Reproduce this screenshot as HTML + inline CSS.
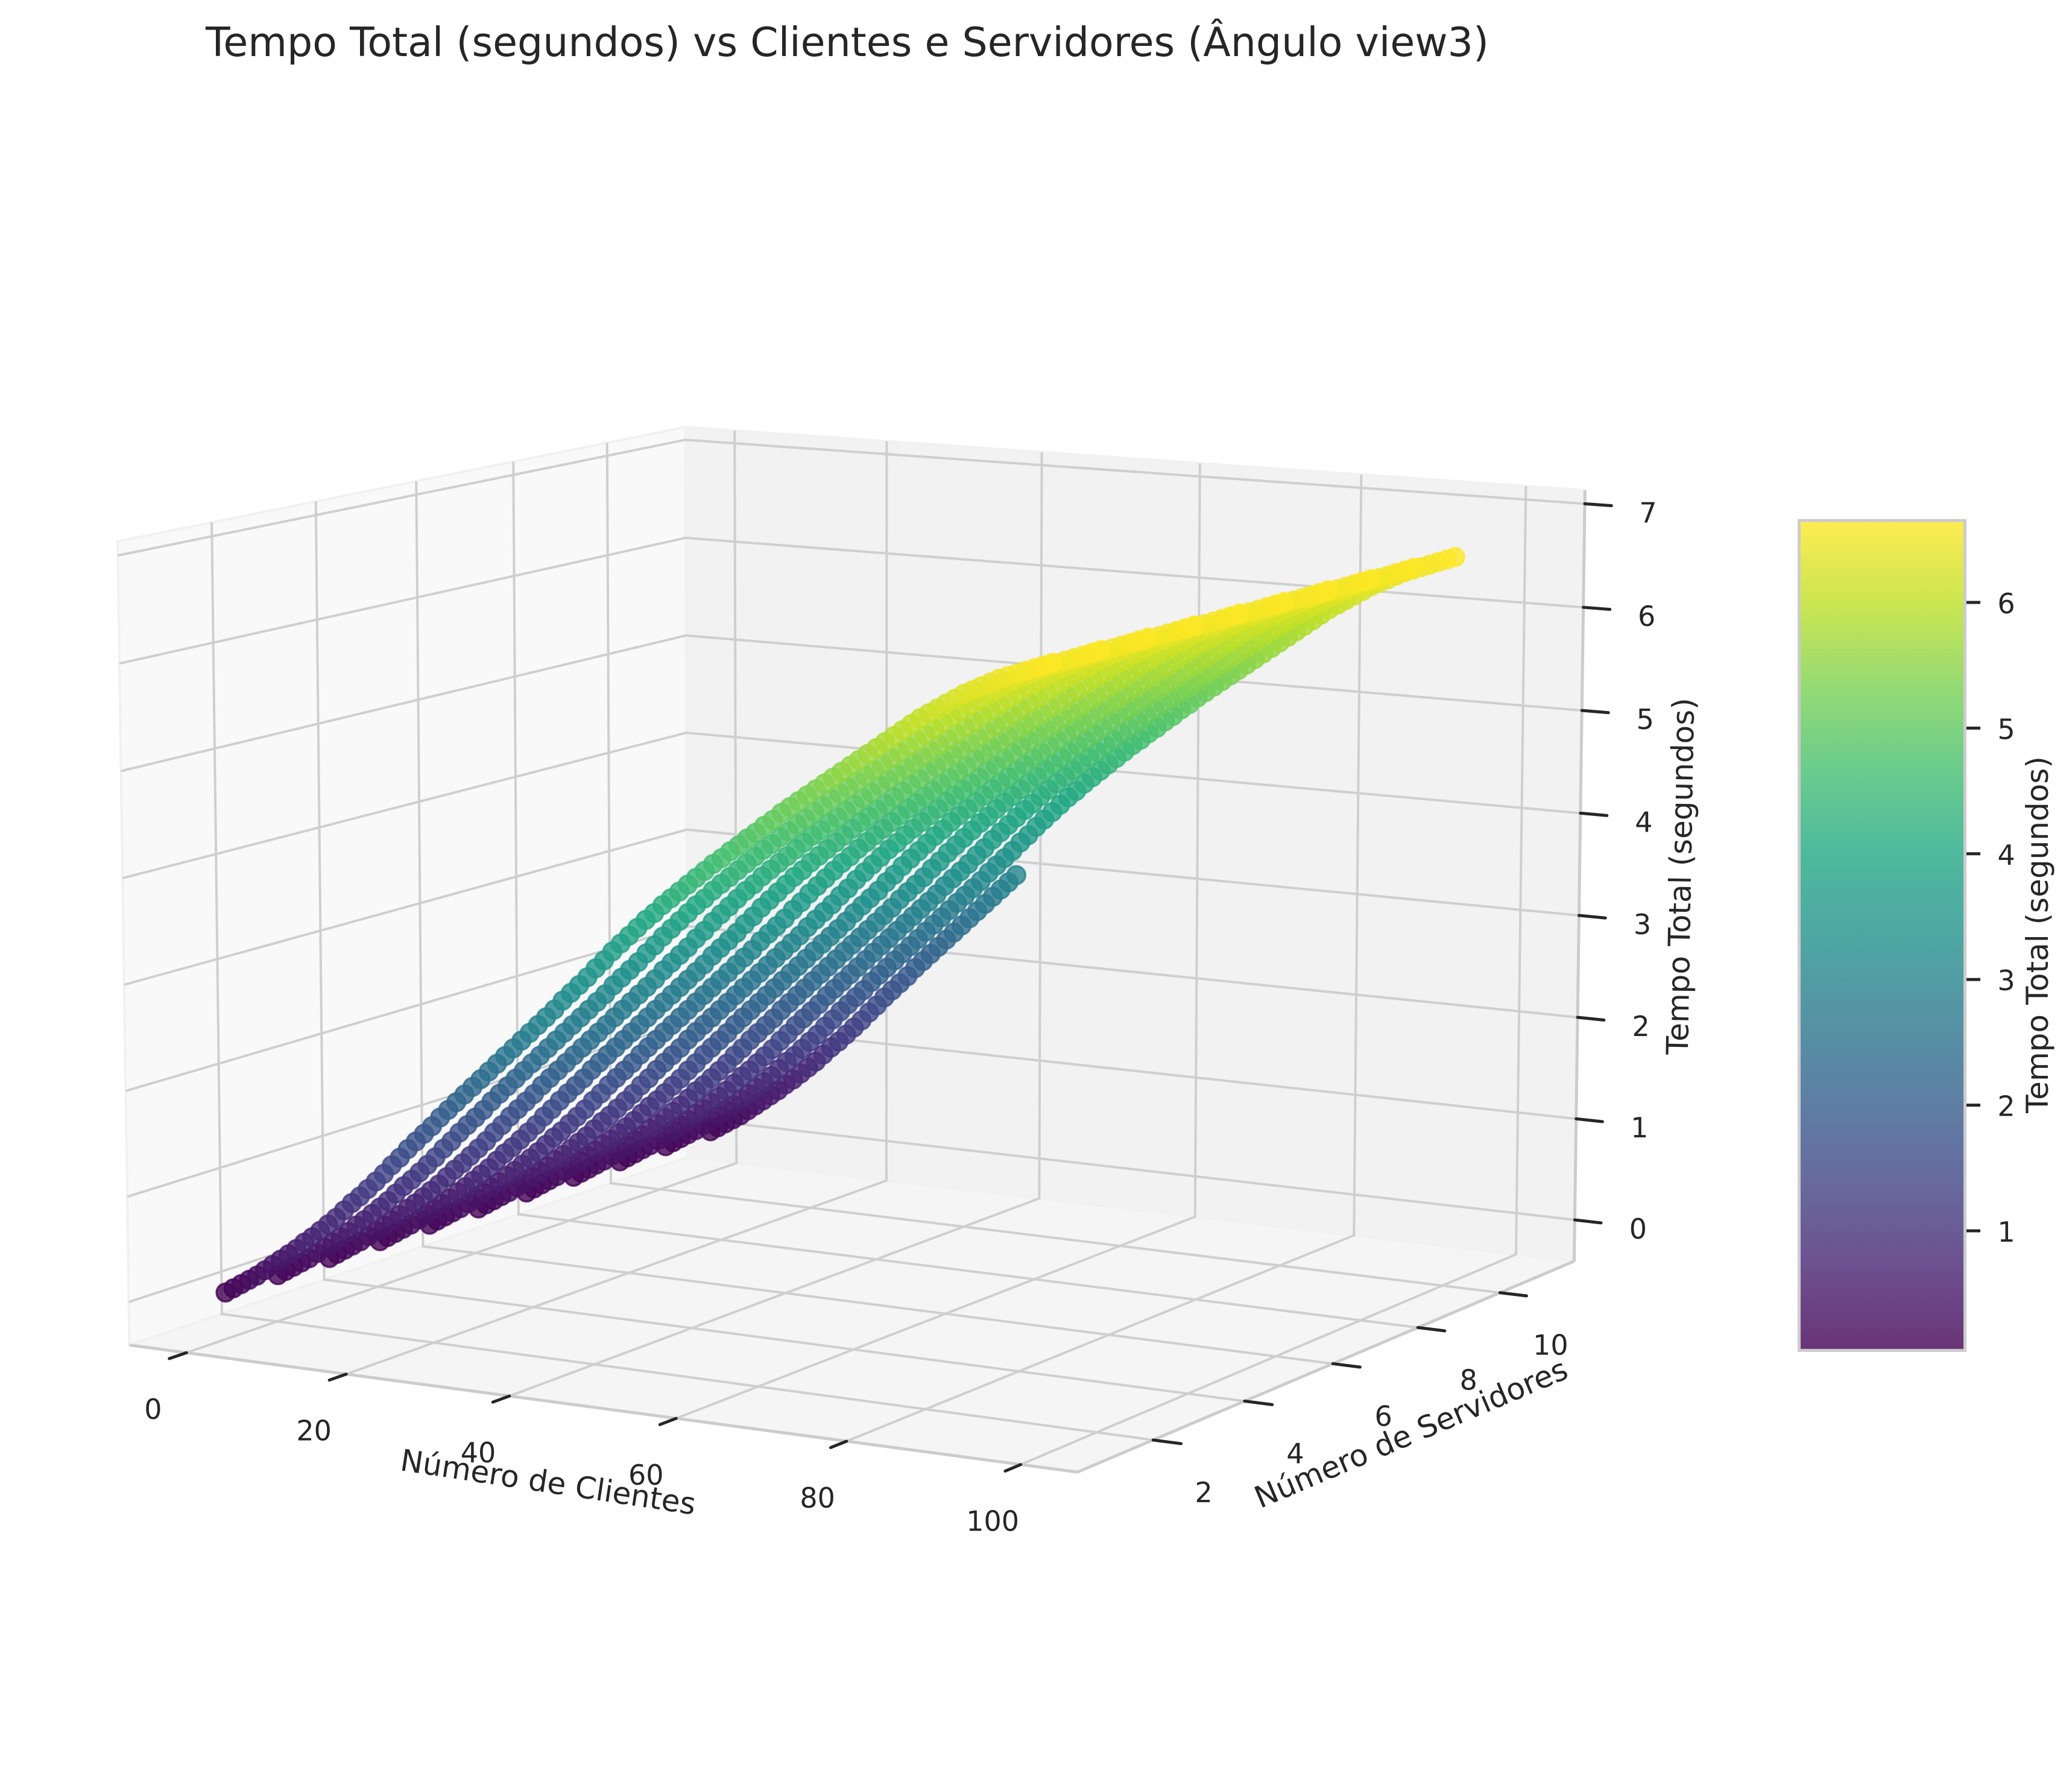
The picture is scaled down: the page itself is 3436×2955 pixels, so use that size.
<!DOCTYPE html>
<html lang="pt">
<head>
<meta charset="utf-8">
<title>Tempo Total vs Clientes e Servidores</title>
<style>
html,body{margin:0;padding:0;background:#fff}
svg{display:block}
text{font-family:"DejaVu Sans","Liberation Sans",sans-serif;fill:#262626}
.grid{stroke:#cfcfcf;stroke-width:4;fill:none}
.edge{stroke:#cccccc;stroke-width:5;fill:none}
.tick{stroke:#262626;stroke-width:5;stroke-linecap:round}
.ticklabel{font-size:46px;text-anchor:middle;dominant-baseline:central}
.axislabel{font-size:50px;text-anchor:middle;dominant-baseline:central}
</style>
</head>
<body>
<svg id="chart" width="3436" height="2955" viewBox="0 0 3436 2955">
<rect x="0" y="0" width="3436" height="2955" fill="#ffffff"/>
<g id="panes"></g>
<g id="grid"></g>
<g id="edges"></g>
<g id="ticks"></g>
<g id="points"></g>
<g id="ticklabels"></g>
<text x="341" y="93" font-size="66.5">Tempo Total (segundos) vs Clientes e Servidores (Ângulo view3)</text>
<text class="axislabel" transform="translate(909 2458) rotate(8.6)">Número de Clientes</text>
<text class="axislabel" transform="translate(2340 2377) rotate(-23)">Número de Servidores</text>
<text class="axislabel" transform="translate(2787 1453) rotate(-89)">Tempo Total (segundos)</text>
<defs><linearGradient id="viridisGradient" x1="0" y1="1" x2="0" y2="0"></linearGradient></defs>
<g id="colorbar"></g>
<text class="axislabel" transform="translate(3379 1550) rotate(-90)">Tempo Total (segundos)</text>
</svg>
<script>
const clientes=[1,2,3,4,5,6,7,8,9,10,11,12,13,14,15,16,17,18,19,20,21,22,23,24,25,26,27,28,29,30,31,32,33,34,35,36,37,38,39,40,41,42,43,44,45,46,47,48,49,50,51,52,53,54,55,56,57,58,59,60,61,62,63,64,65,66,67,68,69,70,71,72,73,74,75,76,77,78,79,80,81,82,83,84,85,86,87,88,89,90,91,92,93,94,95,96,97,98,99,100];
const servidores=[1,2,3,4,5,6,7,8,9,10,11];
const tempoS1=[.07,.12,.17,.22,.27,.33,.39,.45,.51,.57,.64,.70,.77,.84,.91,.99,1.07,1.14,1.22,1.30,1.38,1.47,1.55,1.64,1.72,1.80,1.88,1.97,2.05,2.13,2.21,2.29,2.37,2.45,2.53,2.61,2.69,2.77,2.85,2.93,3.01,3.09,3.18,3.26,3.34,3.42,3.51,3.59,3.68,3.76,3.84,3.92,4.00,4.07,4.15,4.22,4.29,4.36,4.43,4.50,4.57,4.63,4.70,4.76,4.83,4.89,4.96,5.02,5.09,5.15,5.21,5.27,5.33,5.39,5.45,5.51,5.57,5.63,5.69,5.75,5.81,5.87,5.93,5.99,6.05,6.10,6.15,6.20,6.25,6.30,6.34,6.38,6.42,6.46,6.49,6.52,6.55,6.58,6.61,6.64];
const tempoS2=[.07,.12,.17,.22,.27,.33,.39,.45,.51,.57,.64,.70,.77,.84,.91,.99,1.07,1.14,1.22,1.30,1.38,1.47,1.55,1.64,1.72,1.80,1.88,1.97,2.05,2.13,2.21,2.29,2.37,2.45,2.53,2.61,2.69,2.77,2.85,2.93,3.01,3.09,3.18,3.26,3.34,3.42,3.51,3.59,3.68,3.76,3.84,3.92,4.00,4.07,4.15,4.22,4.29,4.36,4.43,4.50,4.57,4.63,4.70,4.76,4.83,4.89,4.96,5.02,5.09,5.15,5.21,5.27,5.33,5.39,5.45,5.51,5.57,5.63,5.69,5.75,5.81,5.87,5.93,5.99,6.05,6.10,6.15,6.20,6.25,6.30,6.34,6.38,6.42,6.46,6.49,6.52,6.55,6.58,6.61,6.64];
const tempoS3=[.07,.12,.17,.22,.27,.33,.39,.45,.51,.57,.64,.70,.77,.84,.91,.99,1.07,1.14,1.22,1.30,1.38,1.47,1.55,1.64,1.72,1.80,1.88,1.97,2.05,2.13,2.21,2.29,2.37,2.45,2.53,2.61,2.69,2.77,2.85,2.93,3.01,3.09,3.18,3.26,3.34,3.42,3.51,3.59,3.68,3.76,3.84,3.92,4.00,4.07,4.15,4.22,4.29,4.36,4.43,4.50,4.57,4.63,4.70,4.76,4.83,4.89,4.96,5.02,5.09,5.15,5.21,5.27,5.33,5.39,5.45,5.51,5.57,5.63,5.69,5.75,5.81,5.87,5.93,5.99,6.05,6.10,6.15,6.20,6.25,6.30,6.34,6.38,6.42,6.46,6.49,6.52,6.55,6.58,6.61,6.64];
const tempoS4=[.07,.12,.17,.22,.27,.33,.39,.45,.51,.57,.64,.70,.77,.84,.91,.99,1.07,1.14,1.22,1.30,1.38,1.47,1.55,1.64,1.72,1.80,1.88,1.97,2.05,2.13,2.21,2.29,2.37,2.45,2.53,2.61,2.69,2.77,2.85,2.93,3.01,3.09,3.18,3.26,3.34,3.42,3.51,3.59,3.68,3.76,3.84,3.92,4.00,4.07,4.15,4.22,4.29,4.36,4.43,4.50,4.57,4.63,4.70,4.76,4.83,4.89,4.96,5.02,5.09,5.15,5.21,5.27,5.33,5.39,5.45,5.51,5.57,5.63,5.69,5.75,5.81,5.87,5.93,5.99,6.05,6.10,6.15,6.20,6.25,6.30,6.34,6.38,6.42,6.46,6.49,6.52,6.55,6.58,6.61,6.64];
const tempoS5=[.07,.12,.17,.22,.27,.33,.39,.45,.51,.57,.64,.70,.77,.84,.91,.99,1.07,1.14,1.22,1.30,1.38,1.47,1.55,1.64,1.72,1.80,1.88,1.97,2.05,2.13,2.21,2.29,2.37,2.45,2.53,2.61,2.69,2.77,2.85,2.93,3.01,3.09,3.18,3.26,3.34,3.42,3.51,3.59,3.68,3.76,3.84,3.92,4.00,4.07,4.15,4.22,4.29,4.36,4.43,4.50,4.57,4.63,4.70,4.76,4.83,4.89,4.96,5.02,5.09,5.15,5.21,5.27,5.33,5.39,5.45,5.51,5.57,5.63,5.69,5.75,5.81,5.87,5.93,5.99,6.05,6.10,6.15,6.20,6.25,6.30,6.34,6.38,6.42,6.46,6.49,6.52,6.55,6.58,6.61,6.64];
const tempoS6=[.07,.12,.17,.22,.27,.33,.39,.45,.51,.57,.64,.70,.77,.84,.91,.99,1.07,1.14,1.22,1.30,1.38,1.47,1.55,1.64,1.72,1.80,1.88,1.97,2.05,2.13,2.21,2.29,2.37,2.45,2.53,2.61,2.69,2.77,2.85,2.93,3.01,3.09,3.18,3.26,3.34,3.42,3.51,3.59,3.68,3.76,3.84,3.92,4.00,4.07,4.15,4.22,4.29,4.36,4.43,4.50,4.57,4.63,4.70,4.76,4.83,4.89,4.96,5.02,5.09,5.15,5.21,5.27,5.33,5.39,5.45,5.51,5.57,5.63,5.69,5.75,5.81,5.87,5.93,5.99,6.05,6.10,6.15,6.20,6.25,6.30,6.34,6.38,6.42,6.46,6.49,6.52,6.55,6.58,6.61,6.64];
const tempoS7=[.07,.12,.17,.22,.27,.33,.39,.45,.51,.57,.64,.70,.77,.84,.91,.99,1.07,1.14,1.22,1.30,1.38,1.47,1.55,1.64,1.72,1.80,1.88,1.97,2.05,2.13,2.21,2.29,2.37,2.45,2.53,2.61,2.69,2.77,2.85,2.93,3.01,3.09,3.18,3.26,3.34,3.42,3.51,3.59,3.68,3.76,3.84,3.92,4.00,4.07,4.15,4.22,4.29,4.36,4.43,4.50,4.57,4.63,4.70,4.76,4.83,4.89,4.96,5.02,5.09,5.15,5.21,5.27,5.33,5.39,5.45,5.51,5.57,5.63,5.69,5.75,5.81,5.87,5.93,5.99,6.05,6.10,6.15,6.20,6.25,6.30,6.34,6.38,6.42,6.46,6.49,6.52,6.55,6.58,6.61,6.64];
const tempoS8=[.07,.12,.17,.22,.27,.33,.39,.45,.51,.57,.64,.70,.77,.84,.91,.99,1.07,1.14,1.22,1.30,1.38,1.47,1.55,1.64,1.72,1.80,1.88,1.97,2.05,2.13,2.21,2.29,2.37,2.45,2.53,2.61,2.69,2.77,2.85,2.93,3.01,3.09,3.18,3.26,3.34,3.42,3.51,3.59,3.68,3.76,3.84,3.92,4.00,4.07,4.15,4.22,4.29,4.36,4.43,4.50,4.57,4.63,4.70,4.76,4.83,4.89,4.96,5.02,5.09,5.15,5.21,5.27,5.33,5.39,5.45,5.51,5.57,5.63,5.69,5.75,5.81,5.87,5.93,5.99,6.05,6.10,6.15,6.20,6.25,6.30,6.34,6.38,6.42,6.46,6.49,6.52,6.55,6.58,6.61,6.64];
const tempoS9=[.07,.12,.17,.22,.27,.33,.39,.45,.51,.57,.64,.70,.77,.84,.91,.99,1.07,1.14,1.22,1.30,1.38,1.47,1.55,1.64,1.72,1.80,1.88,1.97,2.05,2.13,2.21,2.29,2.37,2.45,2.53,2.61,2.69,2.77,2.85,2.93,3.01,3.09,3.18,3.26,3.34,3.42,3.51,3.59,3.68,3.76,3.84,3.92,4.00,4.07,4.15,4.22,4.29,4.36,4.43,4.50,4.57,4.63,4.70,4.76,4.83,4.89,4.96,5.02,5.09,5.15,5.21,5.27,5.33,5.39,5.45,5.51,5.57,5.63,5.69,5.75,5.81,5.87,5.93,5.99,6.05,6.10,6.15,6.20,6.25,6.30,6.34,6.38,6.42,6.46,6.49,6.52,6.55,6.58,6.61,6.64];
const tempoS10=[.07,.12,.17,.22,.27,.33,.39,.45,.51,.57,.64,.70,.77,.84,.91,.99,1.07,1.14,1.22,1.30,1.38,1.47,1.55,1.64,1.72,1.80,1.88,1.97,2.05,2.13,2.21,2.29,2.37,2.45,2.53,2.61,2.69,2.77,2.85,2.93,3.01,3.09,3.18,3.26,3.34,3.42,3.51,3.59,3.68,3.76,3.84,3.92,4.00,4.07,4.15,4.22,4.29,4.36,4.43,4.50,4.57,4.63,4.70,4.76,4.83,4.89,4.96,5.02,5.09,5.15,5.21,5.27,5.33,5.39,5.45,5.51,5.57,5.63,5.69,5.75,5.81,5.87,5.93,5.99,6.05,6.10,6.15,6.20,6.25,6.30,6.34,6.38,6.42,6.46,6.49,6.52,6.55,6.58,6.61,6.64];
const tempoS11=[.07,.12,.17,.22,.27,.33,.39,.45,.51,.57,.64,.70,.77,.84,.91,.99,1.07,1.14,1.22,1.30,1.38,1.47,1.55,1.64,1.72,1.80,1.88,1.97,2.05,2.13,2.21,2.29,2.37,2.45,2.53,2.61,2.69,2.77,2.85,2.93,3.01];
const seriesTempo=[tempoS1,tempoS2,tempoS3,tempoS4,tempoS5,tempoS6,tempoS7,tempoS8,tempoS9,tempoS10,tempoS11];
const xTicks=[0,20,40,60,80,100];
const yTicks=[2,4,6,8,10];
const zTicks=[0,1,2,3,4,5,6,7];
const colorbarTicks=[1,2,3,4,5,6];
const viridis=['#440154','#482475','#414487','#355f8d','#2a788e','#21918c','#22a884','#44bf70','#7ad151','#bddf26','#fde725'];

const xRange=[-7.25,106.4], yRange=[0.40,11.87], zRange=[-0.41,7.13], colorRange=[0.06,6.64];
const NS='http://www.w3.org/2000/svg';
const elev=10*Math.PI/180, azim=-60*Math.PI/180, camDist=10;
const boxW=1.19048, boxH=0.89286;
const screenCx=1438, screenCy=1512, screenScale=14840;
const ce=Math.cos(elev), se=Math.sin(elev), ca=Math.cos(azim), sa=Math.sin(azim);
const wallShiftX=-0.006, wallShiftY=0.013;

function project3(tx,ty,tz){
  const rx=(tx-.5)*boxW, ry=(ty-.5)*boxW, rz=(tz-.5)*boxH;
  const u=-sa*rx+ca*ry;
  const v=-se*ca*rx-se*sa*ry+ce*rz;
  const w=ce*ca*rx+ce*sa*ry+se*rz;
  const d=camDist-w;
  return {x:screenCx+screenScale*u/d, y:screenCy-screenScale*v/d, depth:w};
}
const scaleX=x=>(x-xRange[0])/(xRange[1]-xRange[0]);
const scaleY=y=>(y-yRange[0])/(yRange[1]-yRange[0]);
const scaleZ=z=>(z-zRange[0])/(zRange[1]-zRange[0]);
const colorbarY=v=>2041-208.4*(v-1);

function hexRgb(h){return [parseInt(h.slice(1,3),16),parseInt(h.slice(3,5),16),parseInt(h.slice(5,7),16)];}
function colorFor(v){
  let t=(v-colorRange[0])/(colorRange[1]-colorRange[0]);
  t=Math.max(0,Math.min(1,t))*(viridis.length-1);
  const i=Math.min(viridis.length-2,Math.floor(t)), f=t-i;
  const a=hexRgb(viridis[i]), b=hexRgb(viridis[i+1]);
  return 'rgb('+a.map((c,k)=>Math.round(c+(b[k]-c)*f)).join(',')+')';
}
function makeLine(parent,p,q,cls){
  const l=document.createElementNS(NS,'line');
  l.setAttribute('x1',p.x);l.setAttribute('y1',p.y);l.setAttribute('x2',q.x);l.setAttribute('y2',q.y);
  l.setAttribute('class',cls);
  parent.appendChild(l);
  return l;
}
function makePoly(parent,pts,cls){
  const l=document.createElementNS(NS,'polyline');
  l.setAttribute('points',pts.map(p=>p.x+','+p.y).join(' '));
  l.setAttribute('class',cls);
  parent.appendChild(l);
  return l;
}
function makeLabel(parent,x,y,str){
  const t=document.createElementNS(NS,'text');
  t.setAttribute('x',x);t.setAttribute('y',y);
  t.setAttribute('class','ticklabel');
  t.textContent=str;
  parent.appendChild(t);
  return t;
}
const gPanes=document.getElementById('panes'),gGrid=document.getElementById('grid'),gEdges=document.getElementById('edges'),gTicks=document.getElementById('ticks'),gPoints=document.getElementById('points'),gLabels=document.getElementById('ticklabels'),gBar=document.getElementById('colorbar');

function makePane(pts,fill){
  const el=document.createElementNS(NS,'polygon');
  el.setAttribute('points',pts.map(p=>p.x+','+p.y).join(' '));
  el.setAttribute('fill',fill);
  el.setAttribute('stroke','#f1f1f1');
  el.setAttribute('stroke-width','4');
  gPanes.appendChild(el);
  return el;
}
const A=project3(0,0,0),F=project3(1,0,0),R=project3(1,1,0),B=project3(0,1,0),AT=project3(0,0,1),BT=project3(0,1,1),RT=project3(1,1,1);
let paneEl=makePane([A,B,BT,AT],'#f9f9f9');


paneEl=makePane([B,R,RT,BT],'#f2f2f2');


paneEl=makePane([A,F,R,B],'#f5f5f5');



const tickOut=0.028;
const yLabelOffset=[84,87], zLabelOffset=[105,15];

xTicks.forEach(v=>{
  const t=scaleX(v);
  const g=makePoly(gGrid,[project3(t,0,0),project3(t+wallShiftX,1,0),project3(t+wallShiftX,1,1)],'grid');
  
  
  const base=project3(t,0,0);
  const tk=makeLine(gTicks,base,project3(t,-tickOut,0),'tick');
  
  
  const lb=makeLabel(gLabels,base.x-56+10*t,base.y+94,String(v));
  
  
});
yTicks.forEach(v=>{
  const t=scaleY(v);
  const g=makePoly(gGrid,[project3(1,t,0),project3(0,t+wallShiftY,0),project3(0,t+wallShiftY,1)],'grid');
  
  
  const base=project3(1,t,0);
  const tk=makeLine(gTicks,base,project3(1+tickOut,t,0),'tick');
  
  
  const lb=makeLabel(gLabels,base.x+yLabelOffset[0],base.y+yLabelOffset[1],String(v));
  
  
});
zTicks.forEach(v=>{
  const t=scaleZ(v);
  const g=makePoly(gGrid,[project3(0,0,t),project3(0,1,t),project3(1,1,t)],'grid');
  
  
  const base=project3(1,1,t);
  const tk=makeLine(gTicks,base,project3(1+tickOut,1,t),'tick');
  
  
  const lb=makeLabel(gLabels,base.x+zLabelOffset[0],base.y+zLabelOffset[1],String(v));
  
  
});
let edgeEl=makeLine(gEdges,A,F,'edge');


edgeEl=makeLine(gEdges,F,R,'edge');


edgeEl=makeLine(gEdges,R,RT,'edge');



const marks=[];
servidores.forEach((s,si)=>{
  seriesTempo[si].forEach((z,ci)=>{
    const p=project3(scaleX(clientes[ci]),scaleY(s),scaleZ(z));
    marks.push({p:p,z:z,s:s,c:clientes[ci]});
  });
});
marks.sort((a,b)=>a.p.depth-b.p.depth);
marks.forEach(m=>{
  const col=colorFor(m.z);
  const c=document.createElementNS(NS,'circle');
  c.setAttribute('cx',m.p.x);c.setAttribute('cy',m.p.y);c.setAttribute('r',15);
  c.setAttribute('fill',col);c.setAttribute('stroke',col);c.setAttribute('stroke-width',3.4);
  c.setAttribute('fill-opacity',.8);c.setAttribute('stroke-opacity',.8);
  
  
  gPoints.appendChild(c);
});

const grad=document.getElementById('viridisGradient');
viridis.forEach((col,i)=>{
  const st=document.createElementNS(NS,'stop');
  st.setAttribute('offset',i/(viridis.length-1));
  st.setAttribute('stop-color',col);
  grad.appendChild(st);
});
const barTop=colorbarY(colorRange[1]), barBottom=colorbarY(colorRange[0]);
const barFill=document.createElementNS(NS,'rect');
barFill.setAttribute('x',2983.5);barFill.setAttribute('y',barTop);barFill.setAttribute('width',275);barFill.setAttribute('height',barBottom-barTop);
barFill.setAttribute('fill','url(#viridisGradient)');barFill.setAttribute('opacity',.8);


gBar.appendChild(barFill);
const barFrame=document.createElementNS(NS,'rect');
barFrame.setAttribute('x',2983.5);barFrame.setAttribute('y',barTop-2.5);barFrame.setAttribute('width',275);barFrame.setAttribute('height',barBottom-barTop+5);
barFrame.setAttribute('fill','none');barFrame.setAttribute('stroke','#cccccc');barFrame.setAttribute('stroke-width',5);


gBar.appendChild(barFrame);
colorbarTicks.forEach(v=>{
  const y=colorbarY(v);
  const tk=makeLine(gBar,{x:3261,y:y},{x:3284,y:y},'tick');
  tk.style.strokeLinecap='butt';
  
  
  const lb=makeLabel(gBar,3327,y+2,String(v));
  
  
});
</script>
</body>
</html>
